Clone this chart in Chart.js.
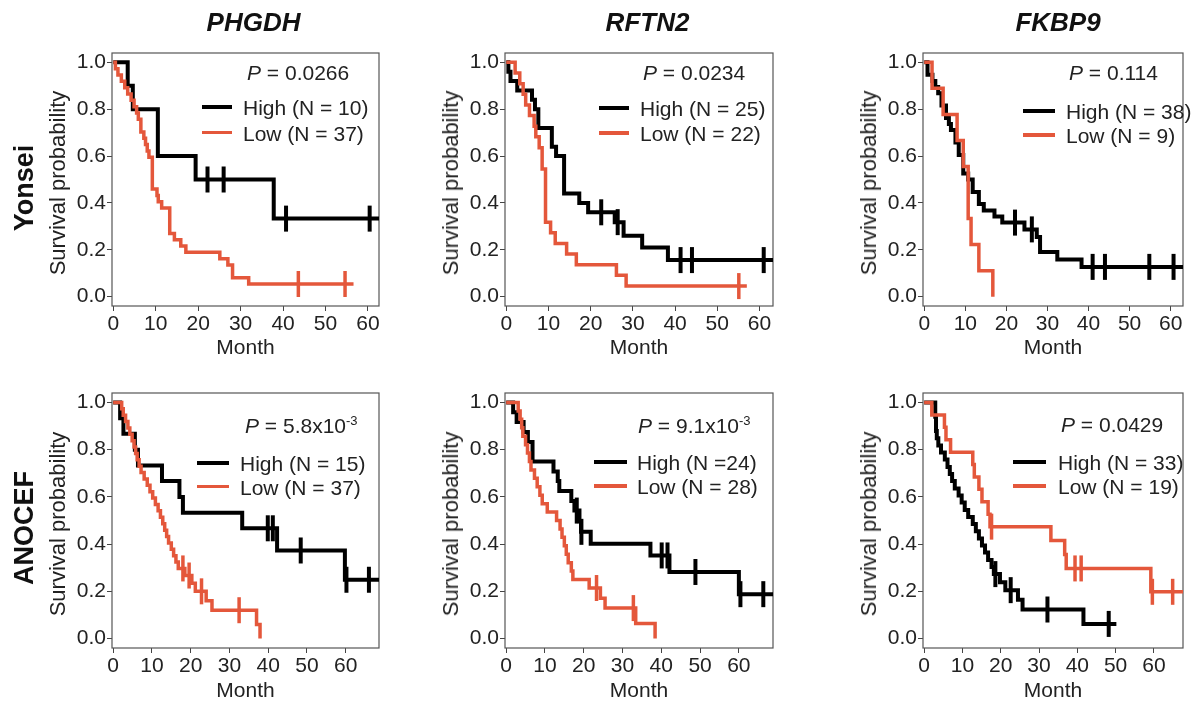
<!DOCTYPE html>
<html>
<head>
<meta charset="utf-8">
<script src="https://cdn.jsdelivr.net/npm/chart.js@4.4.1/dist/chart.umd.min.js"></script>
<style>
  html, body { margin: 0; padding: 0; background: #fff; }
  body { width: 1200px; height: 704px; overflow: hidden; position: relative;
         font-family: "Liberation Sans", Arial, Helvetica, sans-serif; color: #222; }
  canvas { position: absolute; }
  .t { position: absolute; white-space: nowrap; line-height: 1; }
  .rot { transform: translate(-50%, -50%) rotate(-90deg); }
  .mid { transform: translateY(-50%); }
  .ctr { transform: translate(-50%, -50%); }
  .sw { position: absolute; }
</style>
</head>
<body>
<script>
// ================= DATA =================
const genes = ['PHGDH', 'RFTN2', 'FKBP9'];
const cohorts = ['Yonsei', 'ANOCEF'];
const xTicks = [0, 10, 20, 30, 40, 50, 60];
const yTicks = [0, 0.2, 0.4, 0.6, 0.8, 1.0];
const xAxisTitle = 'Month';
const yAxisTitle = 'Survival probability';
const pValues = ['0.0266', '0.0234', '0.114', '5.8x10', '9.1x10', '0.0429'];
const pExponents = ['', '', '', '-3', '-3', ''];
const highLabels = ['High (N = 10)', 'High (N = 25)', 'High (N = 38)', 'High (N = 15)', 'High (N =24)', 'High (N = 33)'];
const lowLabels = ['Low (N = 37)', 'Low (N = 22)', 'Low (N = 9)', 'Low (N = 37)', 'Low (N = 28)', 'Low (N = 19)'];

// Yonsei - PHGDH
const yPHGDH_highT = [0, 3.4, 4.6, 10.5, 19.4, 37.8, 62.6];
const yPHGDH_highS = [1, 0.9, 0.8, 0.6, 0.5, 0.333, 0.333];
const yPHGDH_highC = [22.2, 26.0, 40.7, 60.4];
const yPHGDH_lowT = [0, 0.5, 1.1, 1.9, 2.7, 3.4, 4.2, 4.9, 5.5, 5.9, 6.5, 7.2, 7.6, 8.0, 8.4, 9.2, 10.3, 10.6, 11.4, 13.3, 14.4, 15.9, 17.1, 25.1, 27.0, 28.1, 31.9, 56.6];
const yPHGDH_lowS = [1, .973, .946, .919, .892, .865, .838, .811, .784, .757, .703, .676, .649, .622, .595, .459, .432, .405, .378, .270, .243, .216, .189, .162, .135, .081, .054, .054];
const yPHGDH_lowC = [43.6, 54.6];

// Yonsei - RFTN2
const yRFTN2_highT = [0, 0.5, 1.0, 2.6, 6.1, 6.8, 7.6, 10.8, 11.8, 13.7, 17.3, 19.4, 25.7, 27.8, 32.2, 38.3, 63.4];
const yRFTN2_highS = [1, .96, .92, .88, .84, .80, .72, .64, .60, .44, .40, .36, .318, .26, .21, .156, .156];
const yRFTN2_highC = [22.5, 26.4, 41.3, 44.0, 61.0];
const yRFTN2_lowT = [0, 2.1, 3.2, 4.0, 4.6, 5.5, 6.6, 7.0, 7.8, 8.5, 9.3, 10.5, 11.6, 14.3, 16.6, 26.1, 28.4, 57.0];
const yRFTN2_lowS = [1, .955, .909, .864, .818, .773, .727, .682, .636, .545, .318, .273, .227, .182, .136, .091, .045, .045];
const yRFTN2_lowC = [55.1];

// Yonsei - FKBP9
const yFKBP9_highT = [0, 0.8, 2.0, 2.7, 3.4, 4.2, 5.3, 6.0, 6.5, 7.6, 8.4, 9.5, 10.7, 11.8, 13.3, 14.5, 17.1, 19.0, 24.4, 27.4, 28.2, 32.4, 38.3, 63.5];
const yFKBP9_highS = [1, .947, .921, .895, .868, .816, .763, .737, .711, .658, .605, .526, .500, .447, .395, .368, .342, .316, .287, .255, .191, .159, .127, .127];
const yFKBP9_highC = [22.1, 26.2, 41.0, 44.0, 54.8, 60.7];
const yFKBP9_lowT = [0, 1.9, 4.6, 8.0, 9.5, 10.7, 11.4, 13.3, 16.7];
const yFKBP9_lowS = [1, .889, .778, .667, .556, .333, .222, .111, 0];
const yFKBP9_lowC = [];

// ANOCEF - PHGDH
const aPHGDH_highT = [0, 1.8, 2.65, 5.6, 6.4, 12.6, 17.1, 18.0, 33.3, 42.3, 59.8, 68.8];
const aPHGDH_highS = [1, .933, .867, .80, .733, .667, .60, .533, .467, .373, .249, .249];
const aPHGDH_highC = [39.9, 41.2, 48.4, 60.2, 66.0];
const aPHGDH_lowT = [0, 2.2, 2.6, 3.2, 3.8, 4.3, 4.9, 5.4, 5.8, 6.2, 6.7, 7.2, 8.0, 8.8, 9.5, 10.2, 10.9, 11.6, 12.2, 12.8, 13.3, 13.8, 14.3, 15.0, 15.6, 16.2, 16.8, 18.5, 20.3, 21.2, 24.0, 25.5, 37.0, 37.9];
const aPHGDH_lowS = [1, .973, .946, .919, .892, .865, .838, .811, .784, .757, .730, .703, .676, .649, .622, .595, .568, .541, .514, .486, .459, .432, .405, .378, .351, .324, .297, .267, .234, .200, .160, .120, .060, 0];
const aPHGDH_lowC = [18.0, 19.6, 22.8, 32.5];

// ANOCEF - RFTN2
const aRFTN2_highT = [0, 1.8, 2.7, 4.5, 5.6, 6.8, 12.2, 13.3, 13.7, 16.8, 17.6, 18.9, 19.3, 21.8, 37.2, 42.1, 60.0, 68.8];
const aRFTN2_highS = [1, .958, .917, .875, .833, .750, .708, .667, .625, .583, .542, .497, .452, .402, .352, .282, .188, .188];
const aRFTN2_highC = [18.2, 19.4, 40.1, 41.6, 48.8, 60.4, 66.3];
const aRFTN2_lowT = [0, 3.1, 3.6, 4.0, 4.3, 5.0, 5.5, 6.0, 6.4, 7.3, 8.0, 8.7, 9.3, 10.6, 13.0, 13.9, 14.4, 15.0, 15.5, 16.0, 16.8, 17.2, 21.4, 24.3, 25.5, 33.4, 38.4];
const aRFTN2_lowS = [1, .964, .929, .893, .857, .821, .786, .750, .714, .679, .643, .607, .571, .536, .500, .464, .429, .393, .357, .321, .286, .250, .214, .171, .129, .064, 0];
const aRFTN2_lowC = [23.3, 32.8];

// ANOCEF - FKBP9
const aFKBP9_highT = [0, 2.9, 3.1, 3.3, 3.7, 4.4, 5.4, 6.1, 6.7, 7.3, 8.0, 9.0, 9.8, 10.6, 11.5, 12.7, 13.5, 14.3, 15.1, 15.9, 16.7, 17.6, 18.2, 19.8, 21.2, 24.5, 25.7, 41.6, 50.2];
const aFKBP9_highS = [1, .939, .879, .848, .818, .788, .758, .727, .697, .667, .636, .606, .576, .545, .515, .485, .455, .424, .394, .364, .333, .303, .273, .239, .205, .164, .123, .062, .062];
const aFKBP9_highC = [18.6, 22.6, 32.2, 48.2];
const aFKBP9_lowT = [0, 2.0, 5.3, 5.7, 6.9, 12.7, 13.1, 14.3, 15.1, 16.7, 17.2, 33.1, 36.7, 37.1, 59.2, 67.8];
const aFKBP9_lowS = [1, .947, .895, .842, .789, .737, .684, .632, .579, .526, .474, .415, .356, .297, .198, .198];
const aFKBP9_lowC = [17.6, 39.4, 41.0, 59.6, 64.9];

// ================= LAYOUT / STYLE =================
const RED = '#E4573B';
const BLACK = '#000000';
const TXT = '#222222';
const FONT = "'Liberation Sans', Arial, Helvetica, sans-serif";
Chart.defaults.font.family = FONT;
Chart.defaults.color = TXT;

const panels = [
  { hi: [yPHGDH_highT, yPHGDH_highS, yPHGDH_highC], lo: [yPHGDH_lowT, yPHGDH_lowS, yPHGDH_lowC], box: [112, 42, 388, 306], xmax: 62.6,
    ov: { p: [247, 72], line: [202, 232], hy: 106.7, ly: 132.7, tx: 243 } },
  { hi: [yRFTN2_highT, yRFTN2_highS, yRFTN2_highC], lo: [yRFTN2_lowT, yRFTN2_lowS, yRFTN2_lowC], box: [505, 42, 782, 306], xmax: 63.2,
    ov: { p: [643, 72], line: [599, 629], hy: 108, ly: 133, tx: 640 } },
  { hi: [yFKBP9_highT, yFKBP9_highS, yFKBP9_highC], lo: [yFKBP9_lowT, yFKBP9_lowS, yFKBP9_lowC], box: [923, 42, 1199, 306], xmax: 63.0,
    ov: { p: [1069, 72], line: [1023, 1055], hy: 110.7, ly: 135, tx: 1066 } },
  { hi: [aPHGDH_highT, aPHGDH_highS, aPHGDH_highC], lo: [aPHGDH_lowT, aPHGDH_lowS, aPHGDH_lowC], box: [112, 382, 388, 648], xmax: 68.6,
    ov: { p: [245, 425], line: [197, 229], hy: 462.7, ly: 486.7, tx: 240 } },
  { hi: [aRFTN2_highT, aRFTN2_highS, aRFTN2_highC], lo: [aRFTN2_lowT, aRFTN2_lowS, aRFTN2_lowC], box: [505, 382, 782, 648], xmax: 68.8,
    ov: { p: [638, 425], line: [594, 627], hy: 461.7, ly: 486, tx: 637 } },
  { hi: [aFKBP9_highT, aFKBP9_highS, aFKBP9_highC], lo: [aFKBP9_lowT, aFKBP9_lowS, aFKBP9_lowC], box: [923, 382, 1199, 648], xmax: 67.6,
    ov: { p: [1061, 424], line: [1013, 1046], hy: 461.7, ly: 486, tx: 1058 } },
];

function survAt(T, S, t) {
  let v = S[0];
  for (let i = 0; i < T.length; i++) { if (T[i] <= t) v = S[i]; }
  return v;
}
const toPts = (T, S) => T.map((t, i) => ({ x: t, y: S[i] }));
const censPts = (T, S, C) => C.map(t => ({ x: t, y: survAt(T, S, t) }));

const boxPlugin = {
  id: 'plotBox',
  beforeDatasetsDraw(chart) {
    const { ctx, chartArea: a } = chart;
    ctx.save();
    ctx.strokeStyle = '#555';
    ctx.lineWidth = 1.2;
    ctx.strokeRect(a.left, a.top, a.right - a.left, a.bottom - a.top);
    ctx.restore();
  }
};

function addEl(html, cls, style) {
  const d = document.createElement('div');
  d.className = cls;
  d.style.cssText = style;
  d.innerHTML = html;
  document.body.appendChild(d);
  return d;
}

const YW = 80;     // y-axis block width
panels.forEach((pn, idx) => {
  const row = idx < 3 ? 0 : 1;
  const [L, T, R, B] = pn.box;
  const padTop = 6, padR = (R > 1190) ? 1 : 8;
  const xH = row === 0 ? 60 : 56;
  const cl = L - YW, ct = T - padTop;
  const cw = R + padR - cl, ch = B + xH - ct;
  const cv = document.createElement('canvas');
  cv.width = cw; cv.height = ch;
  cv.style.cssText = `left:${cl}px;top:${ct}px;width:${cw}px;height:${ch}px`;
  document.body.appendChild(cv);

  const [hT, hS, hC] = pn.hi;
  const [lT, lS, lC] = pn.lo;
  const lineDs = (T, S, col, w, ord) => ({ data: toPts(T, S), borderColor: col, borderWidth: w, stepped: true,
    pointRadius: 0, pointHoverRadius: 0, fill: false, order: ord, borderJoinStyle: 'miter' });
  const censDs = (T, S, C, col, w, ord) => ({ data: censPts(T, S, C), showLine: false, pointStyle: 'line',
    pointRotation: 90, pointRadius: 13, pointHoverRadius: 13, pointBorderWidth: w, pointBorderColor: col,
    borderColor: col, backgroundColor: col, order: ord });

  new Chart(cv.getContext('2d'), {
    type: 'line',
    data: { datasets: [
      lineDs(lT, lS, RED, 3.5, 1),
      censDs(lT, lS, lC, RED, 3.5, 0),
      lineDs(hT, hS, BLACK, 4, 3),
      censDs(hT, hS, hC, BLACK, 4, 2),
    ] },
    options: {
      responsive: false, animation: false, devicePixelRatio: 1, events: [],
      layout: { padding: { left: 0, top: padTop, right: padR, bottom: 0 } },
      plugins: { legend: { display: false }, tooltip: { enabled: false } },
      scales: {
        x: {
          type: 'linear', min: -0.3, max: pn.xmax,
          afterBuildTicks: s => { s.ticks = xTicks.map(v => ({ value: v })); },
          afterFit: s => { s.height = xH; s.paddingLeft = 0; s.paddingRight = 0; },
          ticks: { font: { size: 21, lineHeight: 1 }, color: TXT, padding: 2.5, maxRotation: 0, autoSkip: false,
                   callback: v => String(v) },
          grid: { drawOnChartArea: false, drawTicks: true, tickLength: 5, color: '#444', lineWidth: 1 },
          border: { display: false },
          title: { display: true, text: xAxisTitle, font: { size: 21 }, color: TXT,
                   padding: { top: 0, bottom: row === 0 ? 5.4 : 0.4 } }
        },
        y: {
          type: 'linear', min: -0.04, max: 1.04,
          afterBuildTicks: s => { s.ticks = yTicks.map(v => ({ value: v })); },
          afterFit: s => { s.width = YW; s.paddingTop = 0; s.paddingBottom = 0; },
          ticks: { font: { size: 21, lineHeight: 1 }, color: TXT, padding: 1, autoSkip: false,
                   callback: v => Number(v).toFixed(1) },
          grid: { drawOnChartArea: false, drawTicks: true, tickLength: 5, color: '#444', lineWidth: 1 },
          border: { display: false },
          title: { display: false }
        }
      }
    },
    plugins: [boxPlugin]
  });

  // y-axis title
  addEl(yAxisTitle, 't rot', `left:${L - 54}px;top:${row === 0 ? 183 : 524}px;font-size:22px;`);
  // P value
  const o = pn.ov;
  const exp = pExponents[idx] ? `<span style="position:relative;top:-8px;font-size:13px">${pExponents[idx]}</span>` : '';
  addEl(`<i>P</i> = ${pValues[idx]}${exp}`, 't mid', `left:${o.p[0]}px;top:${o.p[1]}px;font-size:21px;`);
  // legend
  addEl('', 'sw', `left:${o.line[0]}px;top:${o.hy - 2}px;width:${o.line[1] - o.line[0]}px;height:4px;background:${BLACK};`);
  addEl('', 'sw', `left:${o.line[0]}px;top:${o.ly - 1.75}px;width:${o.line[1] - o.line[0]}px;height:3.5px;background:${RED};`);
  addEl(highLabels[idx], 't mid', `left:${o.tx}px;top:${o.hy}px;font-size:21px;`);
  addEl(lowLabels[idx], 't mid', `left:${o.tx}px;top:${o.ly}px;font-size:21px;`);
});

// column titles (gene names)
const titleX = [253.5, 647.5, 1058];
genes.forEach((g, i) => addEl(g, 't ctr', `left:${titleX[i]}px;top:22px;font-size:26px;font-weight:bold;font-style:italic;color:#111;`));
// row labels (cohorts)
const rowY = [188, 527.5];
cohorts.forEach((c, i) => addEl(c, 't rot', `left:24px;top:${rowY[i]}px;font-size:27px;font-weight:bold;color:#111;`));
</script>
</body>
</html>
